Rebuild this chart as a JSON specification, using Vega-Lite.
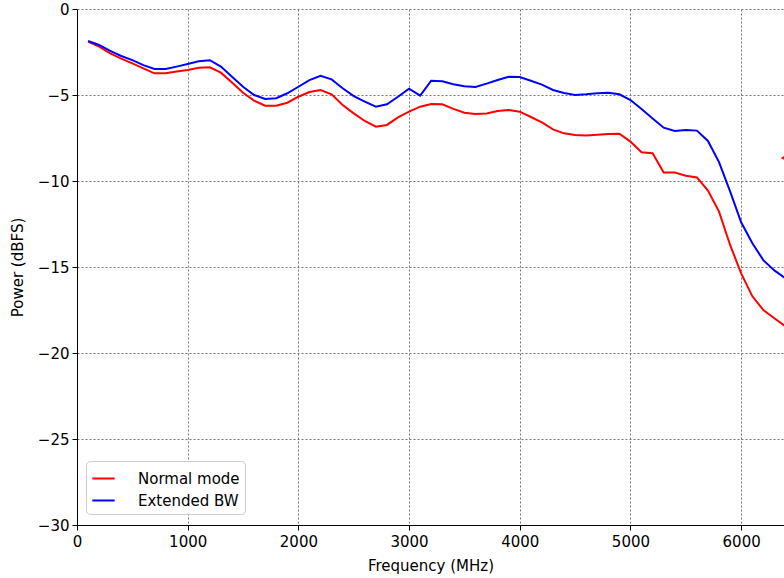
{
  "$schema": "https://vega.github.io/schema/vega-lite/v6.json",
  "autosize": {"type": "none"},
  "padding": {"left": 77, "top": 9, "right": 0, "bottom": 53},
  "width": 707,
  "height": 516,
  "background": "white",
  "title": {"text": "Frequency response", "frame": "group", "anchor": "middle", "baseline": "alphabetic", "offset": 9, "dx": 35, "fontSize": 18, "font": "DejaVu Sans", "fontWeight": "normal", "color": "black"},
  "config": {
    "view": {"stroke": null},
    "font": "DejaVu Sans",
    "axis": {
      "labelFont": "DejaVu Sans", "labelFontSize": 15, "labelColor": "black",
      "titleFont": "DejaVu Sans", "titleFontSize": 15, "titleFontWeight": "normal", "titleColor": "black",
      "domainColor": "black", "domainWidth": 1, "tickColor": "black", "tickSize": 5, "tickWidth": 1,
      "gridColor": "#777777", "gridDash": [2, 2], "gridWidth": 1, "gridOpacity": 1
    },
    "legend": {
      "labelFont": "DejaVu Sans", "labelFontSize": 15, "labelColor": "black"
    }
  },
  "datasets": {
    "curves": [
      {"freq": 100, "series": "Normal mode", "power": -1.9},
      {"freq": 200, "series": "Normal mode", "power": -2.19},
      {"freq": 300, "series": "Normal mode", "power": -2.58},
      {"freq": 400, "series": "Normal mode", "power": -2.89},
      {"freq": 500, "series": "Normal mode", "power": -3.16},
      {"freq": 600, "series": "Normal mode", "power": -3.45},
      {"freq": 700, "series": "Normal mode", "power": -3.74},
      {"freq": 800, "series": "Normal mode", "power": -3.74},
      {"freq": 900, "series": "Normal mode", "power": -3.64},
      {"freq": 1000, "series": "Normal mode", "power": -3.55},
      {"freq": 1100, "series": "Normal mode", "power": -3.41},
      {"freq": 1200, "series": "Normal mode", "power": -3.39},
      {"freq": 1300, "series": "Normal mode", "power": -3.7},
      {"freq": 1400, "series": "Normal mode", "power": -4.28},
      {"freq": 1500, "series": "Normal mode", "power": -4.87},
      {"freq": 1600, "series": "Normal mode", "power": -5.33},
      {"freq": 1700, "series": "Normal mode", "power": -5.62},
      {"freq": 1800, "series": "Normal mode", "power": -5.62},
      {"freq": 1900, "series": "Normal mode", "power": -5.45},
      {"freq": 2000, "series": "Normal mode", "power": -5.1},
      {"freq": 2100, "series": "Normal mode", "power": -4.83},
      {"freq": 2200, "series": "Normal mode", "power": -4.71},
      {"freq": 2300, "series": "Normal mode", "power": -4.96},
      {"freq": 2400, "series": "Normal mode", "power": -5.58},
      {"freq": 2500, "series": "Normal mode", "power": -6.07},
      {"freq": 2600, "series": "Normal mode", "power": -6.51},
      {"freq": 2700, "series": "Normal mode", "power": -6.84},
      {"freq": 2800, "series": "Normal mode", "power": -6.74},
      {"freq": 2900, "series": "Normal mode", "power": -6.3},
      {"freq": 3000, "series": "Normal mode", "power": -5.97},
      {"freq": 3100, "series": "Normal mode", "power": -5.68},
      {"freq": 3200, "series": "Normal mode", "power": -5.52},
      {"freq": 3300, "series": "Normal mode", "power": -5.54},
      {"freq": 3400, "series": "Normal mode", "power": -5.81},
      {"freq": 3500, "series": "Normal mode", "power": -6.03},
      {"freq": 3600, "series": "Normal mode", "power": -6.1},
      {"freq": 3700, "series": "Normal mode", "power": -6.07},
      {"freq": 3800, "series": "Normal mode", "power": -5.93},
      {"freq": 3900, "series": "Normal mode", "power": -5.87},
      {"freq": 4000, "series": "Normal mode", "power": -5.97},
      {"freq": 4100, "series": "Normal mode", "power": -6.28},
      {"freq": 4200, "series": "Normal mode", "power": -6.59},
      {"freq": 4300, "series": "Normal mode", "power": -7.0},
      {"freq": 4400, "series": "Normal mode", "power": -7.23},
      {"freq": 4500, "series": "Normal mode", "power": -7.33},
      {"freq": 4600, "series": "Normal mode", "power": -7.35},
      {"freq": 4700, "series": "Normal mode", "power": -7.31},
      {"freq": 4800, "series": "Normal mode", "power": -7.27},
      {"freq": 4900, "series": "Normal mode", "power": -7.25},
      {"freq": 5000, "series": "Normal mode", "power": -7.71},
      {"freq": 5100, "series": "Normal mode", "power": -8.33},
      {"freq": 5200, "series": "Normal mode", "power": -8.39},
      {"freq": 5300, "series": "Normal mode", "power": -9.51},
      {"freq": 5400, "series": "Normal mode", "power": -9.51},
      {"freq": 5500, "series": "Normal mode", "power": -9.69},
      {"freq": 5600, "series": "Normal mode", "power": -9.79},
      {"freq": 5700, "series": "Normal mode", "power": -10.56},
      {"freq": 5800, "series": "Normal mode", "power": -11.78},
      {"freq": 5900, "series": "Normal mode", "power": -13.72},
      {"freq": 6000, "series": "Normal mode", "power": -15.37},
      {"freq": 6100, "series": "Normal mode", "power": -16.69},
      {"freq": 6200, "series": "Normal mode", "power": -17.5},
      {"freq": 6300, "series": "Normal mode", "power": -17.98},
      {"freq": 6400, "series": "Normal mode", "power": -18.45},
      {"freq": 100, "series": "Extended BW", "power": -1.86},
      {"freq": 200, "series": "Extended BW", "power": -2.09},
      {"freq": 300, "series": "Extended BW", "power": -2.44},
      {"freq": 400, "series": "Extended BW", "power": -2.73},
      {"freq": 500, "series": "Extended BW", "power": -2.97},
      {"freq": 600, "series": "Extended BW", "power": -3.26},
      {"freq": 700, "series": "Extended BW", "power": -3.49},
      {"freq": 800, "series": "Extended BW", "power": -3.49},
      {"freq": 900, "series": "Extended BW", "power": -3.35},
      {"freq": 1000, "series": "Extended BW", "power": -3.2},
      {"freq": 1100, "series": "Extended BW", "power": -3.04},
      {"freq": 1200, "series": "Extended BW", "power": -2.98},
      {"freq": 1300, "series": "Extended BW", "power": -3.35},
      {"freq": 1400, "series": "Extended BW", "power": -3.94},
      {"freq": 1500, "series": "Extended BW", "power": -4.52},
      {"freq": 1600, "series": "Extended BW", "power": -5.0},
      {"freq": 1700, "series": "Extended BW", "power": -5.23},
      {"freq": 1800, "series": "Extended BW", "power": -5.19},
      {"freq": 1900, "series": "Extended BW", "power": -4.9},
      {"freq": 2000, "series": "Extended BW", "power": -4.52},
      {"freq": 2100, "series": "Extended BW", "power": -4.13},
      {"freq": 2200, "series": "Extended BW", "power": -3.88},
      {"freq": 2300, "series": "Extended BW", "power": -4.09},
      {"freq": 2400, "series": "Extended BW", "power": -4.61},
      {"freq": 2500, "series": "Extended BW", "power": -5.06},
      {"freq": 2600, "series": "Extended BW", "power": -5.39},
      {"freq": 2700, "series": "Extended BW", "power": -5.68},
      {"freq": 2800, "series": "Extended BW", "power": -5.54},
      {"freq": 2900, "series": "Extended BW", "power": -5.1},
      {"freq": 3000, "series": "Extended BW", "power": -4.63},
      {"freq": 3100, "series": "Extended BW", "power": -5.04},
      {"freq": 3200, "series": "Extended BW", "power": -4.17},
      {"freq": 3300, "series": "Extended BW", "power": -4.2},
      {"freq": 3400, "series": "Extended BW", "power": -4.38},
      {"freq": 3500, "series": "Extended BW", "power": -4.49},
      {"freq": 3600, "series": "Extended BW", "power": -4.53},
      {"freq": 3700, "series": "Extended BW", "power": -4.34},
      {"freq": 3800, "series": "Extended BW", "power": -4.13},
      {"freq": 3900, "series": "Extended BW", "power": -3.94},
      {"freq": 4000, "series": "Extended BW", "power": -3.96},
      {"freq": 4100, "series": "Extended BW", "power": -4.17},
      {"freq": 4200, "series": "Extended BW", "power": -4.4},
      {"freq": 4300, "series": "Extended BW", "power": -4.71},
      {"freq": 4400, "series": "Extended BW", "power": -4.88},
      {"freq": 4500, "series": "Extended BW", "power": -5.0},
      {"freq": 4600, "series": "Extended BW", "power": -4.96},
      {"freq": 4700, "series": "Extended BW", "power": -4.9},
      {"freq": 4800, "series": "Extended BW", "power": -4.87},
      {"freq": 4900, "series": "Extended BW", "power": -4.96},
      {"freq": 5000, "series": "Extended BW", "power": -5.29},
      {"freq": 5100, "series": "Extended BW", "power": -5.81},
      {"freq": 5200, "series": "Extended BW", "power": -6.36},
      {"freq": 5300, "series": "Extended BW", "power": -6.9},
      {"freq": 5400, "series": "Extended BW", "power": -7.09},
      {"freq": 5500, "series": "Extended BW", "power": -7.03},
      {"freq": 5600, "series": "Extended BW", "power": -7.07},
      {"freq": 5700, "series": "Extended BW", "power": -7.67},
      {"freq": 5800, "series": "Extended BW", "power": -8.9},
      {"freq": 5900, "series": "Extended BW", "power": -10.6},
      {"freq": 6000, "series": "Extended BW", "power": -12.4},
      {"freq": 6100, "series": "Extended BW", "power": -13.6},
      {"freq": 6200, "series": "Extended BW", "power": -14.6},
      {"freq": 6300, "series": "Extended BW", "power": -15.2},
      {"freq": 6400, "series": "Extended BW", "power": -15.65}
    ],
    "arrow": [
      {"freq": 6395, "power": -8.66}
    ]
  },
  "layer": [
    {
      "data": {"name": "curves"},
      "mark": {"type": "line", "strokeWidth": 2, "clip": true},
      "encoding": {
        "x": {"field": "freq", "type": "quantitative", "scale": {"domain": [0, 6387], "nice": false, "zero": false},
              "axis": {"title": "Frequency (MHz)", "format": "d", "values": [0, 1000, 2000, 3000, 4000, 5000, 6000], "labelPadding": 4, "titlePadding": 9, "labelFlush": false, "labelOverlap": false}},
        "y": {"field": "power", "type": "quantitative", "scale": {"domain": [-30, 0], "nice": false},
              "axis": {"title": "Power (dBFS)", "values": [-30, -25, -20, -15, -10, -5, 0], "labelPadding": 3, "titlePadding": 12, "labelFlush": false, "labelOverlap": false}},
        "color": {"field": "series", "type": "nominal",
                  "scale": {"domain": ["Normal mode", "Extended BW"], "range": ["#ff0000", "#0000ff"]},
                  "legend": {"title": null, "orient": "none", "legendX": 9, "legendY": 452,
                             "symbolType": "stroke", "symbolSize": 500, "symbolStrokeWidth": 2,
                             "padding": 5, "rowPadding": 1, "labelOffset": 22,
                             "fillColor": "white", "strokeColor": "#cccccc", "cornerRadius": 4}}
      }
    },
    {
      "data": {"name": "arrow"},
      "mark": {"type": "point", "shape": "triangle-left", "filled": true, "color": "#ff0000", "size": 90, "opacity": 1, "clip": true},
      "encoding": {
        "x": {"field": "freq", "type": "quantitative"},
        "y": {"field": "power", "type": "quantitative"}
      }
    },
    {
      "mark": {"type": "rule", "color": "black", "strokeWidth": 1},
      "encoding": {"y": {"datum": 0}}
    }
  ]
}
